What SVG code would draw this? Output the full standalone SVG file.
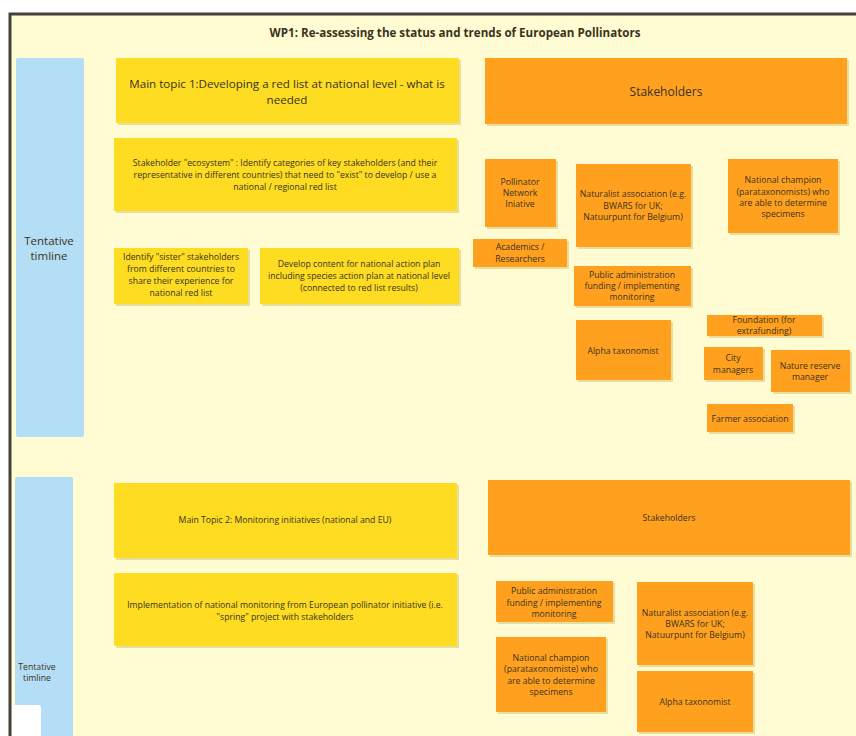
<svg xmlns="http://www.w3.org/2000/svg" width="856" height="736" viewBox="0 0 856 736">
<defs>
<style>
text{font-family:"Open Sans","Noto Sans","Liberation Sans",sans-serif;text-anchor:middle;dominant-baseline:central;fill:#3b3320}
.s{font-size:8.7px}
.y{fill:#FDDC22}
.o{fill:#FFA11F}
.b{fill:#B4DEF6}
.sh{fill:#c9b75a;opacity:0.45}
</style>
</defs>
<rect x="0" y="0" width="856" height="736" fill="#ffffff"/>
<rect x="10" y="14" width="860" height="740" fill="#FFFCD3" stroke="#46413b" stroke-width="3"/>
<text x="455" y="32" font-weight="bold" font-size="11.6" fill="#222">WP1: Re-assessing the status and trends of European Pollinators</text>

<g id="timeline1"><rect x="16" y="58" width="68" height="379" rx="2" class="b"/><text x="49" y="240" font-size="11.5" fill="#2b3a4a">Tentative</text><text x="49" y="255" font-size="11.5" fill="#2b3a4a">timline</text></g>
<g id="timeline2"><rect x="15" y="477" width="58" height="265" rx="2" class="b"/><text x="37" y="667" class="s" fill="#2b3a4a">Tentative</text><text x="37" y="678" class="s" fill="#2b3a4a">timline</text></g>
<g id="whitebox"><rect x="12" y="705" width="29" height="40" rx="3" fill="#ffffff"/></g>

<g id="topic1"><rect x="118" y="60" width="343" height="65" class="sh"/><rect x="116" y="58" width="343" height="65" rx="1" class="y"/><text x="287" y="83" font-size="11.6">Main topic 1:Developing a red list at national level - what is</text><text x="287" y="99" font-size="11.6">needed</text></g>
<g id="stake1"><rect x="487" y="60" width="362" height="66" class="sh"/><rect x="485" y="58" width="362" height="66" class="o"/><text x="666" y="91" font-size="12">Stakeholders</text></g>

<g id="ecosystem"><rect x="116" y="140" width="343" height="73" class="sh"/><rect x="114" y="138" width="343" height="73" class="y"/><text x="285" y="163" class="s">Stakeholder "ecosystem" : Identify categories of key stakeholders (and their</text><text x="285" y="175" class="s">representative in different countries) that need to "exist" to develop / use a</text><text x="285" y="187" class="s">national / regional red list</text></g>
<g id="sister"><rect x="116" y="250" width="134" height="56" class="sh"/><rect x="114" y="248" width="134" height="56" class="y"/><text x="181" y="257" class="s">Identify "sister" stakeholders</text><text x="181" y="269" class="s">from different countries to</text><text x="181" y="281" class="s">share their experience for</text><text x="181" y="293" class="s">national red list</text></g>
<g id="develop"><rect x="262" y="250" width="199" height="56" class="sh"/><rect x="260" y="248" width="199" height="56" class="y"/><text x="359" y="264" class="s">Develop content for national action plan</text><text x="359" y="276" class="s">including species action plan at national level</text><text x="359" y="288" class="s">(connected to red list results)</text></g>

<g id="pollnet"><rect x="487" y="161" width="71" height="68" class="sh"/><rect x="485" y="159" width="71" height="68" class="o"/><text x="520" y="182" class="s">Pollinator</text><text x="520" y="193" class="s">Network</text><text x="520" y="204" class="s">Iniative</text></g>
<g id="naturalist1"><rect x="578" y="166" width="115" height="83" class="sh"/><rect x="576" y="164" width="115" height="83" class="o"/><text x="633" y="194" class="s">Naturalist association (e.g.</text><text x="633" y="206" class="s">BWARS for UK;</text><text x="633" y="217" class="s">Natuurpunt for Belgium)</text></g>
<g id="champion1"><rect x="730" y="161" width="110" height="74" class="sh"/><rect x="728" y="159" width="110" height="74" class="o"/><text x="783" y="180" class="s">National champion</text><text x="783" y="192" class="s">(parataxonomists) who</text><text x="783" y="203" class="s">are able to determine</text><text x="783" y="214" class="s">specimens</text></g>
<g id="academics"><rect x="475" y="241" width="94" height="28" class="sh"/><rect x="473" y="239" width="94" height="28" class="o"/><text x="520" y="247" class="s">Academics /</text><text x="520" y="259" class="s">Researchers</text></g>
<g id="pubadmin1"><rect x="576" y="268" width="117" height="40" class="sh"/><rect x="574" y="266" width="117" height="40" class="o"/><text x="632" y="275" class="s">Public administration</text><text x="632" y="286" class="s">funding / implementing</text><text x="632" y="297" class="s">monitoring</text></g>
<g id="alpha1"><rect x="578" y="322" width="95" height="60" class="sh"/><rect x="576" y="320" width="95" height="60" class="o"/><text x="623" y="351" class="s">Alpha taxonomist</text></g>
<g id="foundation"><rect x="709" y="317" width="115" height="21" class="sh"/><rect x="707" y="315" width="115" height="21" class="o"/><text x="764" y="320" class="s">Foundation (for</text><text x="764" y="331" class="s">extrafunding)</text></g>
<g id="city"><rect x="706" y="349" width="59" height="33" class="sh"/><rect x="704" y="347" width="59" height="33" class="o"/><text x="733" y="358" class="s">City</text><text x="733" y="370" class="s">managers</text></g>
<g id="reserve"><rect x="773" y="352" width="79" height="42" class="sh"/><rect x="771" y="350" width="79" height="42" class="o"/><text x="810" y="366" class="s">Nature reserve</text><text x="810" y="377" class="s">manager</text></g>
<g id="farmer"><rect x="709" y="406" width="86" height="28" class="sh"/><rect x="707" y="404" width="86" height="28" class="o"/><text x="750" y="419" class="s">Farmer association</text></g>

<g id="topic2"><rect x="116" y="485" width="343" height="75" class="sh"/><rect x="114" y="483" width="343" height="75" rx="1" class="y"/><text x="285" y="520" class="s">Main Topic 2: Monitoring initiatives (national and EU)</text></g>
<g id="implementation"><rect x="116" y="575" width="343" height="73" class="sh"/><rect x="114" y="573" width="343" height="73" rx="1" class="y"/><text x="285" y="605" class="s">Implementation of national monitoring from European pollinator initiative (i.e.</text><text x="285" y="617" class="s">"spring" project with stakeholders</text></g>
<g id="stake2"><rect x="490" y="482" width="362" height="75" class="sh"/><rect x="488" y="480" width="362" height="75" class="o"/><text x="669" y="518" class="s">Stakeholders</text></g>
<g id="pubadmin2"><rect x="498" y="583" width="117" height="41" class="sh"/><rect x="496" y="581" width="117" height="41" class="o"/><text x="554" y="591" class="s">Public administration</text><text x="554" y="603" class="s">funding / implementing</text><text x="554" y="614" class="s">monitoring</text></g>
<g id="champion2"><rect x="498" y="639" width="110" height="75" class="sh"/><rect x="496" y="637" width="110" height="75" class="o"/><text x="551" y="658" class="s">National champion</text><text x="551" y="669" class="s">(parataxonomiste) who</text><text x="551" y="681" class="s">are able to determine</text><text x="551" y="692" class="s">specimens</text></g>
<g id="naturalist2"><rect x="639" y="584" width="116" height="83" class="sh"/><rect x="637" y="582" width="116" height="83" class="o"/><text x="695" y="613" class="s">Naturalist association (e.g.</text><text x="695" y="624" class="s">BWARS for UK;</text><text x="695" y="635" class="s">Natuurpunt for Belgium)</text></g>
<g id="alpha2"><rect x="639" y="673" width="116" height="61" class="sh"/><rect x="637" y="671" width="116" height="61" class="o"/><text x="695" y="702" class="s">Alpha taxonomist</text></g>
<g id="connectors"></g>
</svg>
